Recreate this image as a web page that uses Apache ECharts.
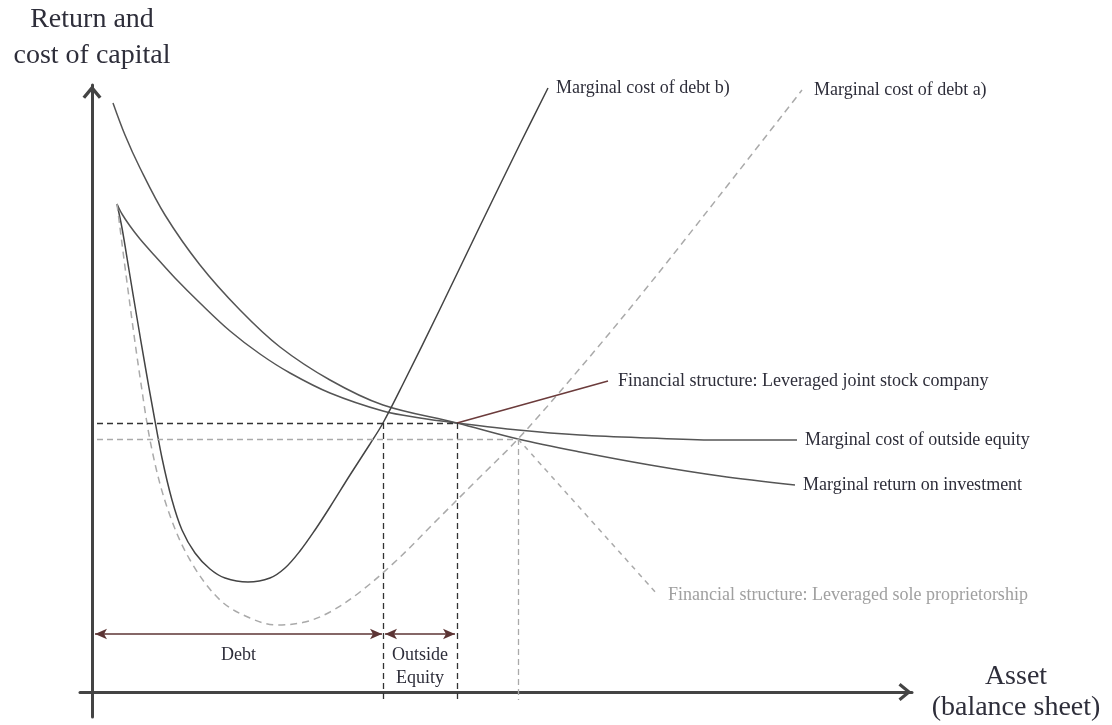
<!DOCTYPE html>
<html>
<head>
<meta charset="utf-8">
<script src="https://cdn.jsdelivr.net/npm/echarts@6/dist/echarts.min.js"></script>
<style>
  html, body { margin: 0; padding: 0; background: #fff; }
  #chart { width: 1112px; height: 725px; }
</style>
</head>
<body>
<div id="chart"></div>
<script>
// curves: [asset, return/cost]
var returnOnInvestment = [[21, 589], [33, 557], [48, 524], [73, 477], [108, 427], [148, 382], [188, 345], [238, 312], [291, 287], [365, 269], [426, 253], [488, 240], [558, 227], [628, 216], [703, 207]];
var costOutsideEquity = [[25, 488], [30, 478], [38, 466], [48, 453], [63, 436], [83, 414], [108, 389], [138, 361], [168, 338], [198, 319], [238, 299], [291, 281], [328, 274], [365, 269], [426, 262], [488, 257], [558, 254], [628, 252], [705, 252]];
var costDebtB = [[25, 488], [30, 464], [37, 422], [45, 374], [53, 327], [61, 282], [70, 234], [80, 192], [90, 162], [103, 139], [118, 123], [133, 114], [156, 110], [178, 114], [193, 124], [208, 141], [223, 162], [238, 185], [258, 217], [278, 248], [291, 269], [311, 308], [348, 383], [388, 466], [428, 548], [456, 604]];
var costDebtA = [[25, 488], [36, 402], [48, 315], [60, 242], [76, 182], [98, 132], [128, 92], [158, 74], [185, 67], [213, 70], [238, 80], [268, 100], [305, 132], [345, 172], [385, 212], [426, 253], [478, 312], [548, 396], [628, 497], [710, 602]];

// equilibrium points and levels
var jointStock = [365, 269];      // leveraged joint stock company
var soleProp = [426, 253];        // leveraged sole proprietorship
var debtLimitB = 291;             // where debt ends (case b)
var jointLabelEnd = [516, 311];
var soleLabelEnd = [566, 97];
var guideStart = 5;
var guideBottom = -8;

// debt / outside equity spans
var spanLevel = 58;
var debtSpan = [3, 290];
var equitySpan = [293, 363];

var serif = "'Liberation Serif', 'Times New Roman', serif";
var textColor = '#2e2e3a';

var myChart = echarts.init(document.getElementById('chart'));

function curve(name, data, color, type, label, labelColor, dist) {
  return {
    name: name,
    type: 'line',
    data: data,
    smooth: 0.35,
    showSymbol: false,
    silent: true,
    lineStyle: { color: color, width: 1.5, type: type },
    endLabel: {
      show: !!label,
      formatter: label || '',
      distance: dist,
      color: labelColor,
      fontFamily: serif,
      fontSize: 18
    }
  };
}

var chevron = 'path://M9,0 L18,11 L15.5,13 L9,5 L2.5,13 L0,11 Z';

var option = {
  animation: false,
  backgroundColor: '#ffffff',
  grid: { left: 80, right: 200, top: 85, bottom: 8 },
  xAxis: {
    type: 'value',
    min: -12,
    max: 820,
    name: 'Asset\n(balance sheet)',
    nameLocation: 'end',
    nameGap: 104,
    nameTextStyle: { fontFamily: serif, fontSize: 28, color: textColor, align: 'center', lineHeight: 31 },
    axisLine: {
      onZero: true,
      symbol: ['none', chevron],
      symbolSize: [18, 15],
      symbolOffset: [0, -7],
      lineStyle: { color: '#444', width: 3 }
    },
    axisTick: { show: false },
    axisLabel: { show: false },
    splitLine: { show: false }
  },
  yAxis: {
    type: 'value',
    min: -25,
    max: 607,
    name: 'Return and\ncost of capital',
    nameLocation: 'end',
    nameGap: 11,
    nameTextStyle: { fontFamily: serif, fontSize: 28, color: textColor, align: 'center', lineHeight: 36 },
    axisLine: {
      onZero: true,
      symbol: ['none', chevron],
      symbolSize: [19, 15],
      symbolOffset: [0, -7],
      lineStyle: { color: '#444', width: 3 }
    },
    axisTick: { show: false },
    axisLabel: { show: false },
    splitLine: { show: false }
  },
  series: [
    curve('Marginal return on investment', returnOnInvestment, '#555', 'solid', 'Marginal return on investment', textColor, 8),
    curve('Marginal cost of outside equity', costOutsideEquity, '#555', 'solid', 'Marginal cost of outside equity', textColor, 8),
    curve('Marginal cost of debt b)', costDebtB, '#444', 'solid', 'Marginal cost of debt b)', textColor, 8),
    curve('Marginal cost of debt a)', costDebtA, '#aaa', [7, 5], 'Marginal cost of debt a)', textColor, 12),
    curve('joint', [jointStock, jointLabelEnd], '#6b3b3b', 'solid', 'Financial structure: Leveraged joint stock company', textColor, 10),
    curve('sole', [soleProp, soleLabelEnd], '#aaa', [5, 5], 'Financial structure: Leveraged sole proprietorship', '#a0a0a0', 10),
    {
      name: 'guides',
      type: 'line',
      data: [],
      silent: true,
      markLine: {
        silent: true,
        symbol: 'none',
        label: { show: false },
        lineStyle: { color: '#333', width: 1.3, type: [6, 4] },
        data: [
          [{ coord: [guideStart, jointStock[1]] }, { coord: jointStock }],
          [{ coord: [debtLimitB, jointStock[1]] }, { coord: [debtLimitB, guideBottom] }],
          [{ coord: jointStock }, { coord: [jointStock[0], guideBottom] }],
          [{ coord: [guideStart, soleProp[1]], lineStyle: { color: '#aaa' } }, { coord: soleProp }],
          [{ coord: soleProp, lineStyle: { color: '#aaa' } }, { coord: [soleProp[0], guideBottom] }]
        ]
      }
    },
    {
      name: 'spans',
      type: 'line',
      data: [],
      silent: true,
      markLine: {
        silent: true,
        symbol: ['arrow', 'arrow'],
        symbolSize: [8, 12],
        lineStyle: { color: '#5c3434', width: 1.5, type: 'solid' },
        label: {
          show: true,
          position: 'insideMiddleBottom',
          distance: 10,
          fontFamily: serif,
          fontSize: 18,
          lineHeight: 23,
          color: textColor
        },
        data: [
          [{ coord: [debtSpan[0], spanLevel], label: { formatter: 'Debt' } }, { coord: [debtSpan[1], spanLevel] }],
          [{ coord: [equitySpan[0], spanLevel], label: { formatter: 'Outside\nEquity' } }, { coord: [equitySpan[1], spanLevel] }]
        ]
      }
    }
  ]
};

myChart.setOption(option);
</script>
</body>
</html>
